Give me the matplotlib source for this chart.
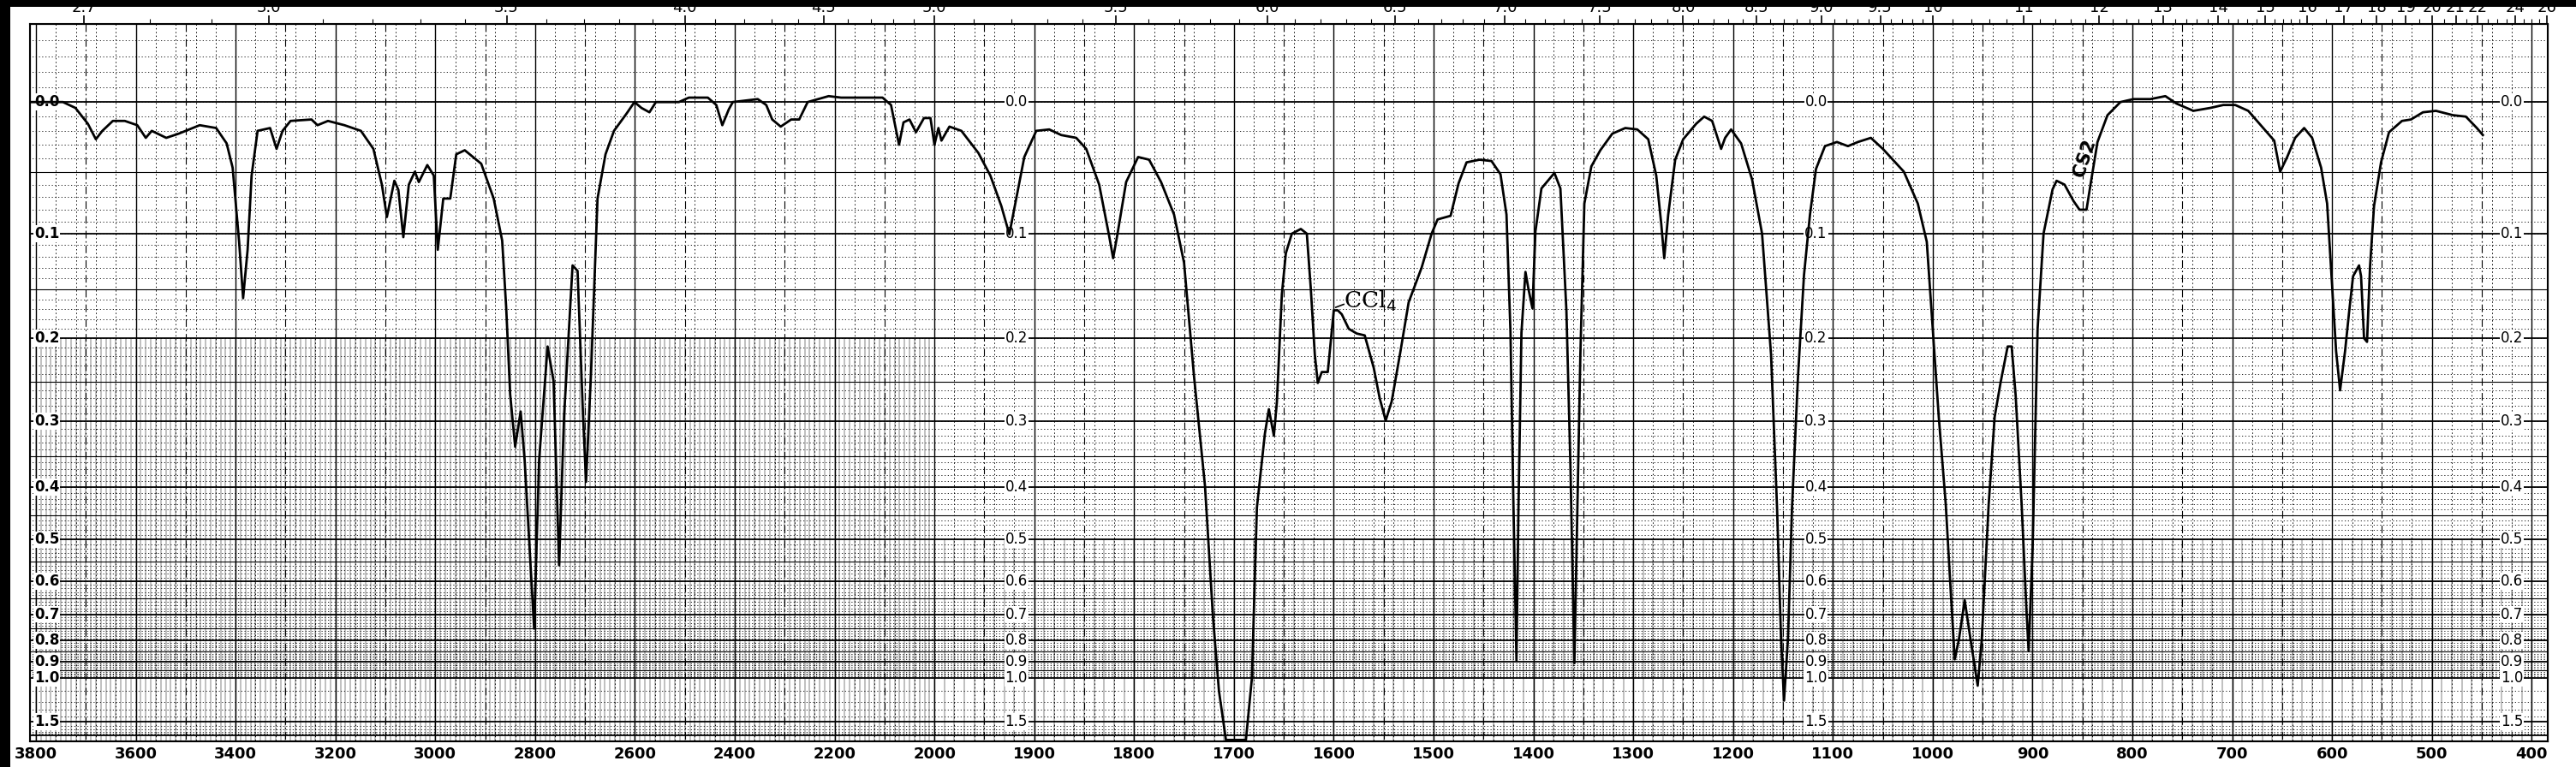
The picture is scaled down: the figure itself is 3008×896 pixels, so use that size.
import numpy as np
import matplotlib
matplotlib.use("Agg")
import matplotlib.pyplot as plt
from matplotlib.patches import Rectangle

# spectrum: wavenumber (cm-1) and absorbance
wavenumber = [
    3812, 3790, 3746, 3721, 3696, 3680, 3667, 3646, 3622, 3597, 3580, 3568, 3539, 3514,
    3472, 3439, 3418, 3406, 3393, 3385, 3376, 3368, 3356, 3331, 3318, 3306, 3290, 3248,
    3236, 3215, 3182, 3149, 3124, 3107, 3097, 3082, 3074, 3064, 3053, 3041, 3033, 3016,
    3003, 2995, 2984, 2970, 2958, 2941, 2908, 2883, 2866, 2858, 2850, 2840, 2829, 2821,
    2802, 2792, 2775, 2763, 2752, 2742, 2725, 2715, 2704, 2698, 2688, 2675, 2659, 2642,
    2617, 2601, 2587, 2571, 2558, 2512, 2492, 2454, 2437, 2425, 2412, 2404, 2379, 2354,
    2337, 2325, 2308, 2287, 2271, 2254, 2212, 2187, 2154, 2104, 2087, 2071, 2062, 2050,
    2037, 2021, 2008, 2000, 1996, 1993, 1985, 1973, 1956, 1944, 1933, 1925, 1919, 1910,
    1898, 1885, 1873, 1858, 1848, 1835, 1825, 1821, 1817, 1808, 1796, 1785, 1773, 1760,
    1750, 1740, 1729, 1721, 1715, 1708, 1688, 1682, 1677, 1669, 1665, 1660, 1657, 1652,
    1648, 1642, 1633, 1627, 1623, 1619, 1616, 1612, 1606, 1600, 1596, 1592, 1585, 1577,
    1569, 1560, 1554, 1548, 1542, 1533, 1525, 1512, 1502, 1496, 1483, 1475, 1467, 1454,
    1442, 1433, 1427, 1423, 1420, 1417, 1415, 1412, 1408, 1405, 1401, 1398, 1392, 1379,
    1373, 1367, 1363, 1359, 1356, 1353, 1349, 1342, 1333, 1321, 1308, 1296, 1285, 1277,
    1272, 1269, 1265, 1258, 1250, 1237, 1229, 1221, 1212, 1208, 1202, 1192, 1181, 1171,
    1162, 1156, 1152, 1149, 1145, 1141, 1135, 1129, 1123, 1117, 1108, 1096, 1085, 1075,
    1062, 1050, 1029, 1015, 1006, 1000, 994, 987, 982, 978, 974, 968, 962, 955,
    951, 944, 938, 932, 925, 921, 917, 911, 906, 904, 900, 895, 889, 880,
    876, 868, 859, 853, 846, 842, 835, 825, 812, 799, 782, 767, 756, 739,
    722, 709, 697, 684, 669, 658, 652, 645, 637, 628, 620, 611, 605, 600,
    596, 592, 587, 583, 579, 573, 571, 568, 565, 562, 558, 551, 543, 530,
    521, 509, 496, 479, 466, 455, 449,
]
absorbance = [
    0.0, 0.0, 0.0, 0.004, 0.015, 0.026, 0.02, 0.013, 0.013, 0.016, 0.025, 0.02, 0.025, 0.022,
    0.016, 0.018, 0.029, 0.047, 0.107, 0.159, 0.114, 0.053, 0.02, 0.018, 0.033, 0.02, 0.013, 0.012,
    0.016, 0.013, 0.016, 0.02, 0.033, 0.06, 0.086, 0.057, 0.064, 0.103, 0.06, 0.05, 0.058, 0.045,
    0.053, 0.114, 0.071, 0.071, 0.037, 0.034, 0.044, 0.071, 0.106, 0.168, 0.265, 0.336, 0.287, 0.356,
    0.752, 0.356, 0.209, 0.249, 0.559, 0.293, 0.128, 0.133, 0.293, 0.391, 0.239, 0.071, 0.037, 0.02,
    0.008, 0.0, 0.004, 0.007, 0.0, 0.0, -0.003, -0.003, 0.002, 0.016, 0.005, 0.0, -0.001, -0.002,
    0.002, 0.012, 0.017, 0.012, 0.012, 0.0, -0.004, -0.003, -0.003, -0.003, 0.002, 0.03, 0.014, 0.012,
    0.021, 0.011, 0.011, 0.03, 0.018, 0.027, 0.017, 0.02, 0.036, 0.053, 0.077, 0.1005, 0.075, 0.039,
    0.02, 0.019, 0.023, 0.025, 0.033, 0.06, 0.102, 0.1215, 0.102, 0.058, 0.039, 0.041, 0.058, 0.084,
    0.1255, 0.243, 0.398, 0.71, 1.10, 2.5, 2.5, 1.0, 0.436, 0.317, 0.284, 0.32, 0.275, 0.155,
    0.117, 0.1, 0.096, 0.10, 0.150, 0.218, 0.251, 0.238, 0.238, 0.171, 0.171, 0.175, 0.19, 0.195,
    0.197, 0.233, 0.27, 0.299, 0.274, 0.213, 0.163, 0.13, 0.1, 0.088, 0.085, 0.059, 0.043, 0.041,
    0.042, 0.052, 0.084, 0.194, 0.436, 0.895, 0.436, 0.194, 0.134, 0.15, 0.169, 0.098, 0.063, 0.051,
    0.063, 0.171, 0.362, 0.91, 0.436, 0.218, 0.075, 0.046, 0.034, 0.022, 0.018, 0.019, 0.026, 0.053,
    0.0915, 0.1215, 0.084, 0.041, 0.026, 0.015, 0.01, 0.013, 0.033, 0.025, 0.019, 0.029, 0.056, 0.10,
    0.218, 0.436, 0.79, 1.19, 0.79, 0.436, 0.243, 0.137, 0.084, 0.048, 0.031, 0.028, 0.031, 0.028,
    0.025, 0.033, 0.05, 0.075, 0.107, 0.19, 0.294, 0.43, 0.629, 0.889, 0.8, 0.655, 0.8, 1.056,
    0.8, 0.43, 0.294, 0.25, 0.209, 0.209, 0.266, 0.43, 0.697, 0.845, 0.519, 0.19, 0.0997, 0.0637,
    0.057, 0.06, 0.073, 0.08, 0.08, 0.06, 0.028, 0.009, 0.0, -0.002, -0.002, -0.004, 0.001, 0.006,
    0.004, 0.002, 0.002, 0.006, 0.018, 0.027, 0.05, 0.039, 0.025, 0.018, 0.025, 0.047, 0.075, 0.147,
    0.214, 0.26, 0.214, 0.173, 0.138, 0.128, 0.138, 0.2, 0.204, 0.129, 0.077, 0.043, 0.021, 0.013,
    0.012, 0.007, 0.006, 0.009, 0.01, 0.018, 0.023,
]

wn_ticks = [3800, 3600, 3400, 3200, 3000, 2800, 2600, 2400, 2200, 2000, 1900, 1800, 1700,
            1600, 1500, 1400, 1300, 1200, 1100, 1000, 900, 800, 700, 600, 500, 400]
wn_labels = ["3800", "3600", "3400", "3200", "3000", "2800", "2600", "2400", "2200", "2000",
             "1900", "1800", "1700", "1600", "1500", "1400", "1300", "1200", "1100", "1000",
             "900", "800", "700", "600", "500", "400"]
micron_ticks = [2.7, 3.0, 3.5, 4.0, 4.5, 5.0, 5.5, 6.0, 6.5, 7.0, 7.5, 8.0, 8.5, 9.0, 9.5,
                10, 11, 12, 13, 14, 15, 16, 17, 18, 19, 20, 21, 22, 24, 26]
micron_labels = ["2.7", "3.0", "3.5", "4.0", "4.5", "5.0", "5.5", "6.0", "6.5", "7.0", "7.5",
                 "8.0", "8.5", "9.0", "9.5", "10", "11", "12", "13", "14", "15", "16", "17",
                 "18", "19", "20", "21", "22", "24", "26"]
abs_marks = [0.0, 0.1, 0.2, 0.3, 0.4, 0.5, 0.6, 0.7, 0.8, 0.9, 1.0, 1.5]
abs_texts = ["0.0", "0.1", "0.2", "0.3", "0.4", "0.5", "0.6", "0.7", "0.8", "0.9", "1.0", "1.5"]
label_columns = [3778, 1918, 1117, 420]


# chart paper: 3800-2000 at half the scale of 2000-400
def fwd_x(nu):
    nu = np.asarray(nu, dtype=float)
    return np.where(nu > 2000, 2000 + (nu - 2000) / 2, nu)


def inv_x(f):
    f = np.asarray(f, dtype=float)
    return np.where(f > 2000, 2000 + (f - 2000) * 2, f)


# absorbance grid on paper that is linear in transmittance
def fwd_y(a):
    return 1 - 10 ** (-np.asarray(a, dtype=float))


def inv_y(t):
    return -np.log10(np.clip(1 - np.asarray(t, dtype=float), 1e-9, None))


XLIM = (3812, 384)

fig = plt.figure(figsize=(30.08, 8.96), dpi=100)
ax = fig.add_axes([35 / 3008, 30 / 896, 2940 / 3008, 838 / 896])
ax.set_xscale("function", functions=(fwd_x, inv_x))
ax.set_yscale("function", functions=(fwd_y, inv_y))
ax.set_xlim(*XLIM)
ax.set_ylim(3.0, -0.05)

# vertical grid
left_dotted = np.arange(3800, 2000, -40)
right_dotted = np.arange(2000, 380, -20)
ax.vlines(np.concatenate([left_dotted, right_dotted]), -0.05, 3.0, colors="black",
          linewidth=0.7, linestyles=(0, (1.5, 3)), zorder=1)
fine = np.arange(3800, 390, -10)
ax.vlines(fine[fine > 2000], 0.2, 3.0, colors="black", linewidth=0.35, zorder=1)
ax.vlines(fine[fine <= 2000], 0.5, 3.0, colors="black", linewidth=0.35, zorder=1)
halves = np.concatenate([np.arange(3700, 2000, -200), np.arange(1950, 400, -100)])
ax.vlines(halves, -0.05, 3.0, colors="black", linewidth=0.8,
          linestyles=(0, (8, 3, 1.5, 3)), zorder=1)
ax.vlines(wn_ticks, -0.05, 3.0, colors="black", linewidth=1.0, zorder=1)

# horizontal grid
fine_a = np.concatenate([np.arange(-0.04, 1.0, 0.01), np.arange(1.0, 2.0, 0.1)])
ax.hlines(fine_a, XLIM[1], XLIM[0], colors="black", linewidth=0.6,
          linestyles=(0, (1.5, 3)), zorder=1)
fives = np.arange(0.05, 1.0, 0.1)
ax.hlines(fives, XLIM[1], XLIM[0], colors="black", linewidth=0.8, zorder=1)
ax.hlines(abs_marks + [2.0], XLIM[1], XLIM[0], colors="black", linewidth=1.3, zorder=1)

# absorbance labels written on the paper
for col in label_columns:
    bold = "bold" if col > 3000 else "normal"
    for a, s in zip(abs_marks, abs_texts):
        ax.text(col, a, s, ha="center", va="center", fontsize=12, fontweight=bold,
                zorder=3, bbox=dict(facecolor="white", edgecolor="none", pad=0.6))

ax.plot(wavenumber, absorbance, color="black", linewidth=2.0, zorder=4)

ax.text(1590, 0.162, "CCl$_4$", fontsize=19, family="DejaVu Serif", ha="left",
        va="center", zorder=5)
ax.plot([1598, 1590], [0.168, 0.165], color="black", linewidth=1.2, zorder=5)
ax.text(848, 0.04, "CS2", fontsize=15, fontweight="bold", rotation=72,
        ha="center", va="center", zorder=5)

ax.set_xticks(wn_ticks)
ax.set_xticklabels(wn_labels)
ax.tick_params(axis="x", length=0, pad=4, labelsize=13)
for lab in ax.get_xticklabels():
    lab.set_fontweight("bold")
ax.set_yticks([])
for sp in ax.spines.values():
    sp.set_linewidth(1.5)

# wavelength scale along the top
top = ax.twiny()
top.set_xscale("function", functions=(fwd_x, inv_x))
top.set_xlim(*XLIM)
top.set_xticks([1e4 / m for m in micron_ticks])
top.set_xticklabels(micron_labels)
minor_um = np.concatenate([np.arange(2.6, 10.0, 0.1), np.arange(10.0, 16.0, 0.2),
                           np.arange(16.0, 26.1, 0.5)])
top.set_xticks([1e4 / m for m in minor_um], minor=True)
top.tick_params(axis="x", which="major", direction="out", length=7, width=1.2,
                pad=0, labelsize=13)
top.tick_params(axis="x", which="minor", direction="out", length=4, width=0.8)
top.set_xlim(*XLIM)

# black scan borders
fig.add_artist(Rectangle((0, 1 - 8 / 896), 1, 8 / 896, transform=fig.transFigure,
                         facecolor="black", edgecolor="none", zorder=10))
fig.add_artist(Rectangle((0, 0), 12 / 3008, 1, transform=fig.transFigure,
                         facecolor="black", edgecolor="none", zorder=10))

fig.savefig("out.png", dpi=100)
